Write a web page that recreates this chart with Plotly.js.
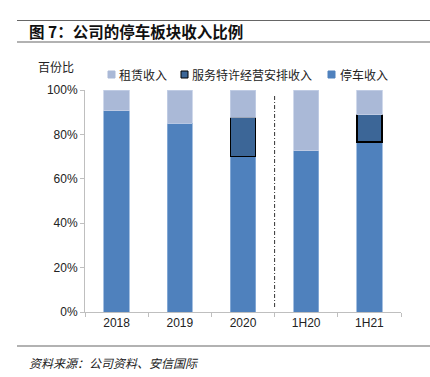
<!DOCTYPE html>
<html>
<head>
<meta charset="utf-8">
<script src="https://cdn.plot.ly/plotly-3.0.1.min.js"></script>
<style>html,body{margin:0;padding:0;background:#fff;}#chart{width:430px;height:377px;}</style>
</head>
<body>
<div id="chart"></div>
<script>
const categories = ['2018', '2019', '2020', '1H20', '1H21'];
const parking = [90.7, 85.0, 70.0, 72.7, 76.5];
const service = [null, null, 17.7, null, 12.4];
const rental = [9.3, 15.0, 12.3, 27.3, 11.1];
const seriesNames = ['停车收入', '服务特许经营安排收入', '租赁收入'];
const seriesColors = ['#4F81BD', '#3C6697', '#AAB9D7'];
const yTicks = [0, 20, 40, 60, 80, 100];
const yTickText = ['0%', '20%', '40%', '60%', '80%', '100%'];

const cjk = '"Noto Sans CJK SC", "Noto Sans", sans-serif';
const latin = 'Arial, "Liberation Sans", sans-serif';

const traces = [
  {type: 'bar', name: seriesNames[0], x: categories, y: parking,
   marker: {color: seriesColors[0], line: {color: '#8fb0da', width: 0.8}}, width: 0.4},
  {type: 'bar', name: seriesNames[1], x: categories, y: service,
   marker: {color: seriesColors[1], line: {color: '#000000', width: 1.5}}, width: 0.4},
  {type: 'bar', name: seriesNames[2], x: categories, y: rental,
   marker: {color: seriesColors[2], line: {color: '#c4d0e6', width: 0.8}}, width: 0.4}
];

// plot area: x 85..401, y 90..312
const L = 85, R = 401, T = 90, B = 312;
const px = p => (p - L) / (R - L);
const py = p => (B - p) / (B - T);

// manual legend (order as in reference: rental, service, parking)
const legendItems = [
  {name: seriesNames[2], color: seriesColors[2], border: seriesColors[2], sx: 108, tx: 117},
  {name: seriesNames[1], color: seriesColors[1], border: '#000000', sx: 181, tx: 190},
  {name: seriesNames[0], color: seriesColors[0], border: seriesColors[0], sx: 328, tx: 338}
];
const legendY = 74.5;
const legendShapes = legendItems.map(it => ({
  type: 'rect', xref: 'paper', yref: 'paper',
  x0: px(it.sx), x1: px(it.sx + 7), y0: py(legendY + 3.5), y1: py(legendY - 3.5),
  fillcolor: it.color, line: {color: it.border, width: 1}
}));
const legendAnn = legendItems.map(it => ({
  xref: 'paper', yref: 'paper', x: px(it.tx), y: py(legendY), xanchor: 'left', yanchor: 'middle',
  text: it.name, showarrow: false, font: {family: cjk, size: 12, color: '#222'}
}));

const layout = {
  width: 430, height: 377,
  margin: {l: L, r: 430 - R, t: T, b: 377 - B, pad: 0},
  paper_bgcolor: '#ffffff', plot_bgcolor: '#ffffff',
  barmode: 'stack',
  showlegend: false,
  xaxis: {
    type: 'category', range: [-0.5, 4.5],
    showline: true, linecolor: '#bfbfbf', linewidth: 1,
    ticks: 'outside', ticklen: 4, tickcolor: '#bfbfbf', tickson: 'boundaries',
    showgrid: false, zeroline: false,
    tickfont: {family: latin, size: 12, color: '#222'}
  },
  yaxis: {
    range: [0, 100], tickvals: yTicks, ticktext: yTickText,
    showline: true, linecolor: '#bfbfbf', linewidth: 1,
    ticks: 'outside', ticklen: 4, tickcolor: '#bfbfbf',
    showgrid: false, zeroline: false,
    tickfont: {family: latin, size: 12, color: '#222'}
  },
  shapes: [
    {type: 'line', xref: 'x', yref: 'paper', x0: 2.5, x1: 2.5, y0: py(307), y1: py(94),
     line: {color: '#333', width: 1, dash: '4px,2px,1px,2px'}},
    {type: 'line', xref: 'paper', yref: 'paper', x0: px(17), x1: px(430), y0: py(20.5), y1: py(20.5),
     line: {color: '#666', width: 1.2}},
    {type: 'line', xref: 'paper', yref: 'paper', x0: px(17), x1: px(430), y0: py(42), y1: py(42),
     line: {color: '#666', width: 1.2}},
    {type: 'line', xref: 'paper', yref: 'paper', x0: px(17), x1: px(430), y0: py(346), y1: py(346),
     line: {color: '#666', width: 1.2}}
  ].concat(legendShapes),
  annotations: [
    {xref: 'paper', yref: 'paper', x: px(27), y: py(31), xanchor: 'left', yanchor: 'middle',
     text: '<b>图 7：公司的停车板块收入比例</b>', showarrow: false,
     font: {family: cjk, size: 15.5, color: '#111'}},
    {xref: 'paper', yref: 'paper', x: px(36), y: py(66), xanchor: 'left', yanchor: 'middle',
     text: '百份比', showarrow: false,
     font: {family: cjk, size: 12, color: '#222'}},
    {xref: 'paper', yref: 'paper', x: px(27), y: py(362), xanchor: 'left', yanchor: 'middle',
     text: '<i>资料来源：公司资料、安信国际</i>', showarrow: false,
     font: {family: cjk, size: 12, color: '#222'}}
  ].concat(legendAnn)
};

Plotly.newPlot('chart', traces, layout, {displayModeBar: false, staticPlot: true});
</script>
</body>
</html>
